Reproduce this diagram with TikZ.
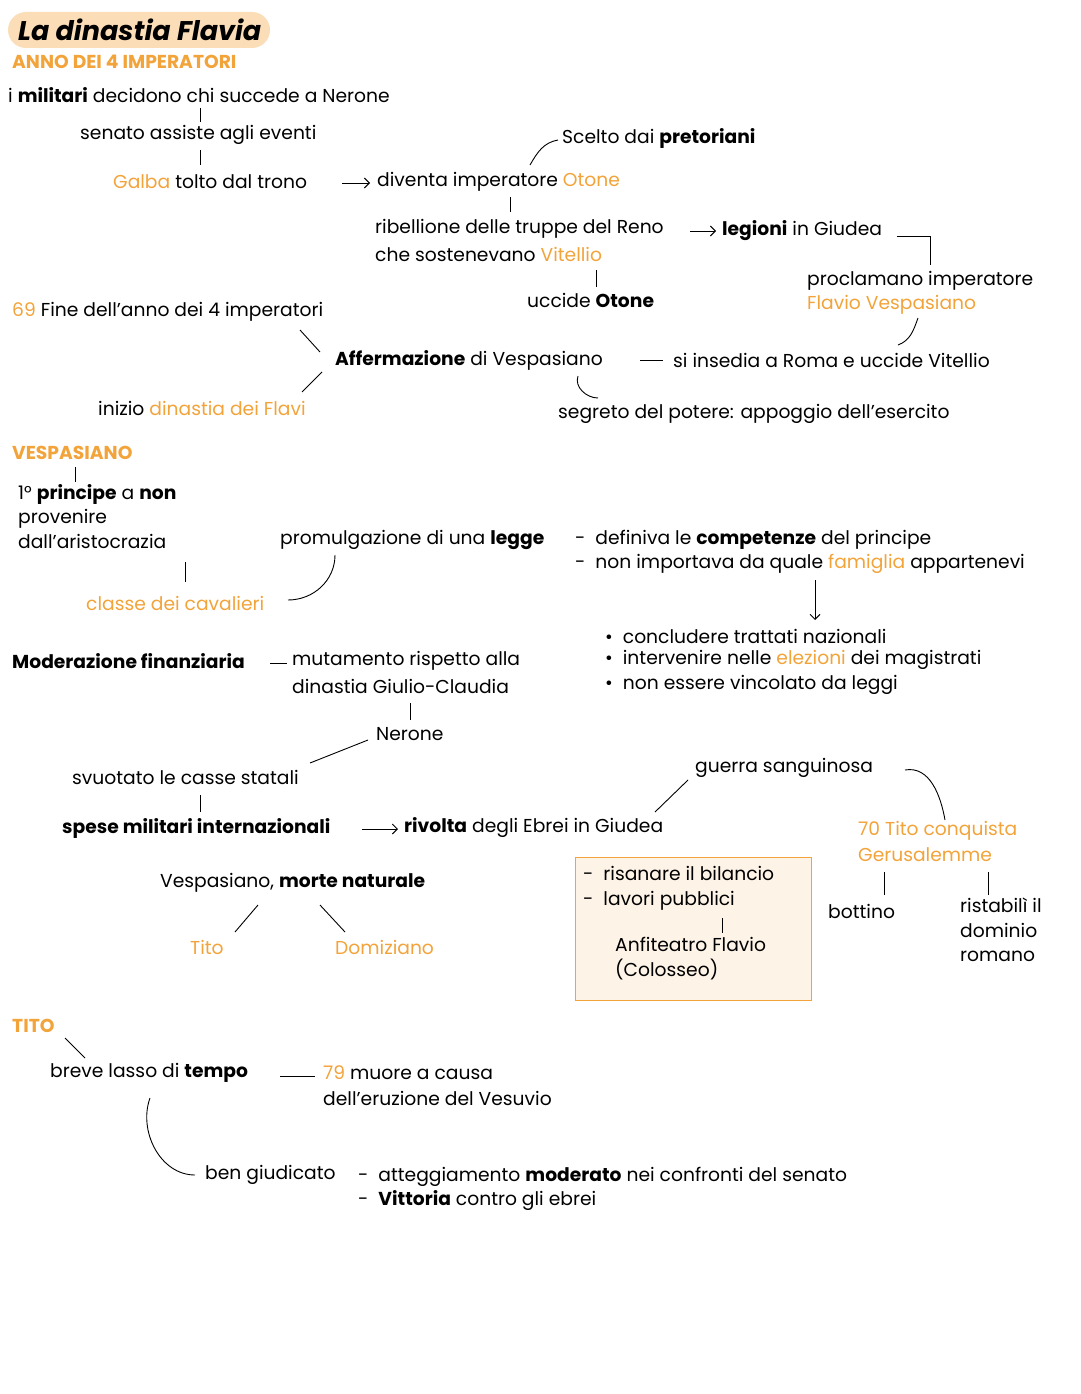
\documentclass[tikz,border=0pt]{standalone}
\usepackage{fontspec}
\setmainfont{Poppins}
\definecolor{ora}{HTML}{F2A33A}
\definecolor{pale}{HTML}{FDF3E7}
\definecolor{pill}{HTML}{FBDDB8}
\newcommand{\orn}[1]{\textcolor{ora}{#1}}
\usetikzlibrary{arrows.meta}
\begin{document}
\begin{tikzpicture}[x=1pt,y=-1pt,
  t/.style={anchor=west,inner sep=0pt,font=\fontsize{18.7}{24.5}\selectfont},
  ln/.style={line width=0.9pt},
  ar/.style={line width=0.9pt,-{Straight Barb[length=5pt]}}]
\useasboundingbox (0,0) rectangle (1080,1394);
\fill[pill,rounded corners=18pt] (8,12) rectangle (270,48);
\node[t,font=\fontsize{27}{30}\selectfont\itshape\bfseries] (title) at (18,30) {La dinastia Flavia};
\node[t,text=ora] (anno) at (12,62) {\textbf{ANNO DEI 4 IMPERATORI}};
\node[t] (mil) at (8,95) {i \textbf{militari} decidono chi succede a Nerone};
\draw[ln] (200,108)--(200,122);
\node[t] (sen) at (80,135) {senato assiste agli eventi};
\draw[ln] (200,150)--(200,165);
\node[t] (galba) at (113,182) {\orn{Galba} tolto dal trono};
\draw[ar] (342,183)--(370,183);
\node[t] (div) at (377,182) {diventa imperatore \orn{Otone}};
\node[t] (sc) at (562,138) {Scelto dai \textbf{pretoriani}};
\draw[ln] (530,165) to[out=60,in=190] (558,140);
\draw[ln] (510,197)--(510,212);
\node[t] (rib) at (375,229) {ribellione delle truppe del Reno};
\node[t] (so) at (375,254) {che sostenevano \orn{Vitellio}};
\draw[ar] (690,231)--(716,231);
\node[t] (leg) at (722,231) {\textbf{legioni} in Giudea};
\draw[ln] (897,236)--(930,236)--(930,265);
\node[t] (pro) at (807,281) {proclamano imperatore};
\node[t] (fv) at (807,305) {\orn{Flavio Vespasiano}};
\draw[ln] (918,318) to[out=250,in=20] (898,345);
\draw[ln] (596,270)--(596,287);
\node[t] (ucc) at (527,300) {uccide \textbf{Otone}};
\node[t] (f69) at (12,312) {\orn{69} Fine dell'anno dei 4 imperatori};
\draw[ln] (300,330)--(320,352);
\node[t] (aff) at (335,360) {\textbf{Affermazione} di Vespasiano};
\draw[ln] (640,360)--(663,360);
\node[t] (ins) at (673,360) {si insedia a Roma e uccide Vitellio};
\draw[ln] (322,372)--(302,392);
\node[t] (ini) at (98,408) {inizio \orn{dinastia dei Flavi}};
\draw[ln] (578,376) to[out=250,in=180] (598,398);
\node[t] (seg) at (558,414) {segreto del potere: appoggio dell'esercito};
\node[t,text=ora] (ves) at (12,453) {\textbf{VESPASIANO}};
\draw[ln] (75,467)--(75,482);
\node[t,align=left,anchor=north west] (pri) at (18,484) {1° \textbf{principe} a \textbf{non}\\provenire\\dall'aristocrazia};
\draw[ln] (185,562)--(185,582);
\node[t] (cav) at (86,603) {\orn{classe dei cavalieri}};
\draw[ln] (288,600) to[out=0,in=270] (335,555);
\node[t] (prom) at (280,540) {promulgazione di una \textbf{legge}};
\node[t] (d1) at (575,540) {-\ \ definiva le \textbf{competenze} del principe};
\node[t] (d2) at (575,564) {-\ \ non importava da quale \orn{famiglia} appartenevi};
\draw[ar] (815,580)--(815,620);
\node[t] (b1) at (605,636) {•\ \ concludere trattati nazionali};
\node[t] (b2) at (605,660) {•\ \ intervenire nelle \orn{elezioni} dei magistrati};
\node[t] (b3) at (605,685) {•\ \ non essere vincolato da leggi};
\node[t] (mod) at (12,661) {\textbf{Moderazione finanziaria}};
\draw[ln] (270,663)--(287,663);
\node[t] (mut) at (292,661) {mutamento rispetto alla};
\node[t] (gc) at (292,686) {dinastia Giulio-Claudia};
\draw[ln] (410,703)--(410,720);
\node[t] (ner) at (376,734) {Nerone};
\draw[ln] (368,740)--(310,763);
\node[t] (svu) at (72,777) {svuotato le casse statali};
\draw[ln] (200,795)--(200,812);
\node[t] (spe) at (62,828) {\textbf{spese militari internazionali}};
\draw[ar] (362,829)--(398,829);
\node[t] (riv) at (404,828) {\textbf{rivolta} degli Ebrei in Giudea};
\draw[ln] (655,812)--(688,780);
\node[t] (gue) at (695,768) {guerra sanguinosa};
\draw[ln] (905,770) to[out=10,in=100] (945,820);
\node[t] (tc) at (858,831) {\orn{70 Tito conquista}};
\node[t] (ge) at (858,855) {\orn{Gerusalemme}};
\draw[ln] (884,872)--(884,895);
\draw[ln] (988,872)--(988,895);
\node[t] (bot) at (828,911) {bottino};
\node[t,align=left,anchor=north west] (ris) at (960,898) {ristabilì il\\dominio\\romano};
\draw[ora,fill=pale,line width=0.8pt] (575,857) rectangle (811,1000);
\node[t] (r1) at (583,873) {-\ \ risanare il bilancio};
\node[t] (r2) at (583,901) {-\ \ lavori pubblici};
\draw[ln] (722,918)--(722,933);
\node[t] (anf) at (615,944) {Anfiteatro Flavio};
\node[t] (col) at (615,969) {(Colosseo)};
\node[t] (vmn) at (160,883) {Vespasiano, \textbf{morte naturale}};
\draw[ln] (258,905)--(235,932);
\draw[ln] (320,905)--(345,932);
\node[t] (tito) at (190,947) {\orn{Tito}};
\node[t] (dom) at (335,947) {\orn{Domiziano}};
\node[t,text=ora] (TITO) at (12,1026) {\textbf{TITO}};
\draw[ln] (65,1038)--(85,1058);
\node[t] (bre) at (50,1073) {breve lasso di \textbf{tempo}};
\draw[ln] (280,1076)--(315,1076);
\node[t] (m79) at (323,1073) {\orn{79} muore a causa};
\node[t] (eru) at (323,1098) {dell'eruzione del Vesuvio};
\draw[ln] (150,1098) to[out=250,in=180] (195,1175);
\node[t] (ben) at (205,1175) {ben giudicato};
\node[t] (a1) at (358,1177) {-\ \ atteggiamento \textbf{moderato} nei confronti del senato};
\node[t] (a2) at (358,1201) {-\ \ \textbf{Vittoria} contro gli ebrei};
\end{tikzpicture}
\end{document}
